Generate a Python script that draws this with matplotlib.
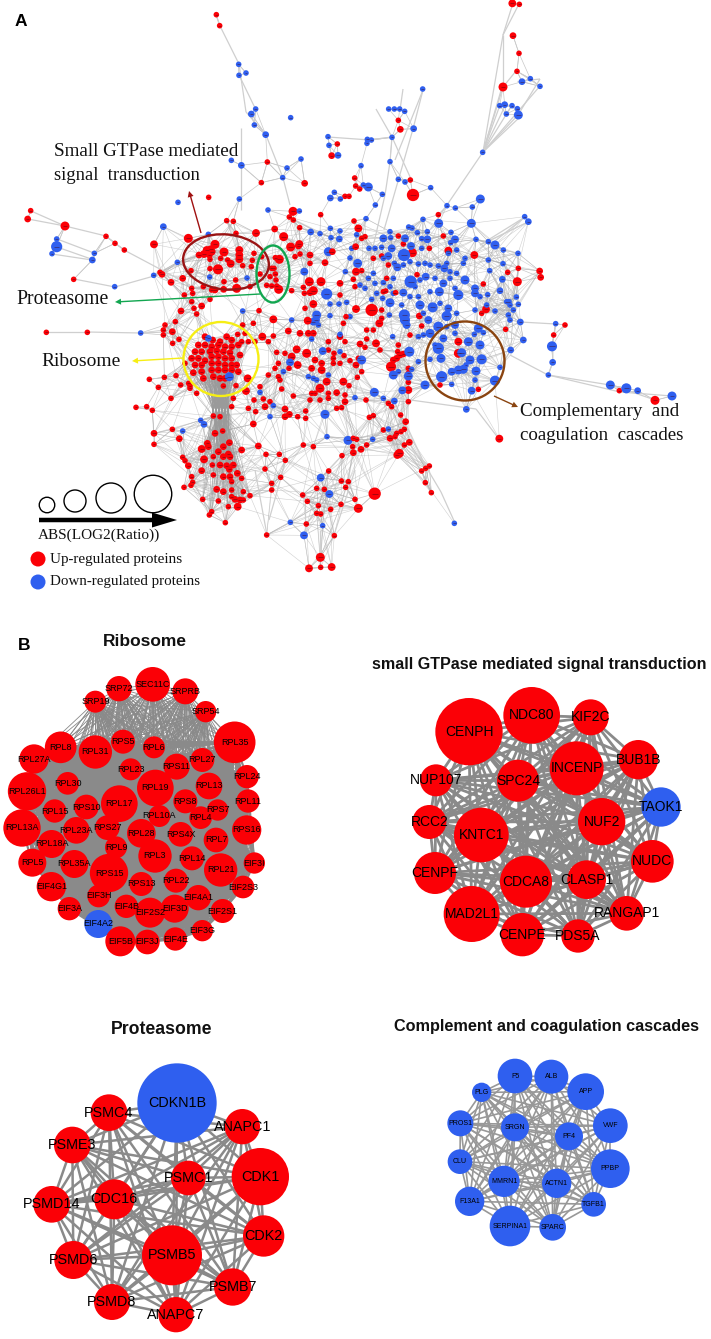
import itertools
import numpy as np
import matplotlib
matplotlib.use("Agg")
import matplotlib.pyplot as plt
from matplotlib.collections import LineCollection
from matplotlib.patches import Circle, Ellipse, FancyArrow

RED = "#fb0006"
BLUE = "#2f5fef"
SANS = "Liberation Sans"
SERIF = "Liberation Serif"

crop_a_up = [(649,44),(659,77),(1012,432),(995,467,6),(802,486),(784,548),(914,550,6),(1067,558),(626,592),(1035,589),(1047,589),
    (92,632),(83,657,6),(195,678,8),(879,634,8),(868,651),(880,660),(962,644),(680,662),(700,664),(1062,663),(1075,685,7),(899,683),
    (824,687,6),(768,699,7),(708,700),(318,709),(345,730),(373,750),(462,733,7),(565,715,8),(851,710,8),(645,733,8),(872,741,8),(898,732,7),
    (620,750,7),(632,748,7),(612,762,7),(597,765,6),(628,765,6),(672,756,8),(718,750,7),(718,765,7),(718,778,7),(692,791,7),(654,808,9),(630,806),
    (683,780),(662,775),(728,797),(754,800),(762,760),(757,781),(573,812),(548,835,6),(513,847,6),(486,823,6),(480,817),(707,840),(671,868,6),(645,870,6),
    (710,865,8),(750,860),(785,770),(838,778,8),(826,773),(815,805),(826,822),(810,830),(828,840),(815,858),(800,856),(830,858),(836,868,8),(780,822),(221,838)]
crop_a_down = [(716,193),(717,226),(738,219),(767,327),(754,342,6),(763,375),(797,404,6),(872,353),(984,410),(987,436),(1014,466,6),(903,477),
    (694,481),(724,496,6),(861,504),(848,533),(1003,577),(991,594,6),(1021,597),(718,597),(534,607),(804,630),(898,633),(490,680,6),(625,703),(932,696,6),(960,701),
    (991,685),(1020,693),(993,713),(1018,717,6),(1070,704),(1055,745),(985,755,8),(1050,774),(1073,790,8),(170,717),(170,740,10),(156,761),(283,760),(277,780,6),
    (532,787),(461,826),(344,860),(629,831),(741,834),(913,815,7),(980,882,10),(1040,907),(990,912),(1017,912)]
crop7_up = [(139,97),(262,97),(495,75),(490,90),(490,105),(517,95,6),(543,33,6),(590,42),(526,65),(518,130),(537,118),(448,238),(493,232),(475,262),(408,322),(440,320),
    (457,331),(513,295),(542,255),(566,250),(570,265),(590,280),(462,400,6),(462,433),(517,388),(538,416,6),(548,472),(555,482),(565,497,6),(552,562),(575,530),(578,547),
    (573,556),(608,598),(635,635),(628,645),(676,668),(645,400,6),(668,393),(622,430,6),(605,447,7),(625,440,6),(688,428,6),(670,440,6),(655,455,6),(685,462,6),(690,470,6),
    (670,470,6),(640,470),(612,478,7),(637,495),(660,495,6),(680,497,6),(700,495,6),(688,508,6),(605,512,6),(640,525),(670,530,6),(690,530,6),(712,520,6),(725,535),(695,545),
    (650,568,6),(670,575,6),(695,570),(730,575),(750,587),(695,590),(655,603),(705,598,6),(720,600,6),(730,600),(713,620,7),(685,620),(725,450,6),(775,438,6),(798,463),(838,463),
    (856,481),(795,507),(842,532),(815,550),(815,570),(760,372,6),(738,273,7),(640,348),(660,350),(695,320),(745,325),(767,335),(795,320,6),(810,305),(790,297),(762,300),(700,295),
    (855,327,6),(855,350,6),(868,343,6),(893,350),(917,333),(917,355),(910,435),(940,440),(1026,467),(1060,458,6),(1058,440),(986,513),(1024,543),(1045,545),(1037,562),(973,568),
    (950,565),(908,585),(922,604),(955,617),(992,628),(1023,613),(1065,598),(1075,625,8),(950,640),(962,642),(919,672),(1003,707),(800,705),(961,772,8),(927,805,7),(962,802),(995,801,7),
    (875,170,7),(893,195,7),(900,100,6),(925,100,6),(940,100,6),(920,160,8),(945,180,6),(965,190,6),(965,210,7),(935,205,6),(960,265,8),(980,245,7),(1010,278,6),(945,280),(930,300),
    (960,300),(985,295),(1010,325),(1025,323),(1030,245,7),(1047,257),(1000,175),(1035,125),(1020,110,6),(830,157),(855,160),(825,205),(805,225),(880,288),(845,267),(835,230),(1075,175),
    (985,125),(985,150),(1000,190),(1020,190)]
crop7_down = [(422,99),(962,533,7),(988,582,7),(871,667),(912,706,7),(968,677),(981,410),(1044,421,8),(975,343,8),(1065,293),(548,393),(602,361),(612,373,6),(850,215),(870,187,7),(925,230),
    (940,235),(985,225),(968,153,7),(1020,155),(1078,180),(950,45,8),(940,65,7),(955,75),(728,33),(875,60),(990,12),(1015,12),(1040,8),(990,47),(1020,103),(1050,50),(780,277),(810,350),(820,317)]
crop9_up = [(55,24,7),(135,42,7),(115,58,7),(105,62,7),(85,72,6),(125,65,7),(160,65,7),(208,62,7),(210,75,7),(208,88,7),(180,98,7),(145,118,9),(120,88),(125,118),(63,122),(38,145,6),(5,157),
    (162,155),(160,180),(200,175,8),(125,180),(100,170),(65,175),(68,190),(43,195),(33,243,6),(72,235),(95,228,6),(65,215),(120,208),(260,10,6),(315,0),(342,20,7),(362,50,7),(385,48,6),(420,75,6),
    (375,80),(390,72),(420,100),(465,98,6),(487,65,6),(323,85),(312,115),(320,130),(305,140),(295,143),(322,155),(310,165),(325,178,8),(365,182),(418,155,8),(453,155,8),(510,160,6),(400,172),
    (430,182,8),(420,188,6),(403,190),(430,222,7),(405,235),(413,272,7),(510,195),(267,242),(310,268,7),(250,280),(218,285),(203,313),(225,310),(277,320,7),(255,335),(295,335),(310,318),(392,313,6),
    (412,310,6),(430,305,6),(355,303,6),(380,358,7),(410,372,8),(325,370),(363,382,7),(383,408,8),(357,415),(325,400),(310,417),(330,450),(295,437),(228,485,7),(270,470),(370,497),(425,490),(440,492),
    (450,480,8),(475,490),(500,490),(525,495),(522,453,7),(492,370),
    # ribosome knot
    (105,320,6),(128,330,6),(150,335,6),(170,320,6),(185,330,6),(85,345,6),(105,345,6),(125,350,6),(145,345,6),(165,350,6),(185,350,6),(205,345,6),(75,365,6),(95,365,6),(120,365,6),(140,362,6),(160,365,6),
    (180,368,6),(210,375,6),(65,385,6),(85,385,6),(105,392,6),(125,380,6),(145,380,6),(165,385,6),(185,385,6),(75,405,6),(95,405,6),(125,400,6),(145,400,6),(165,405,6),(185,405,6),(200,405,6),(70,428,6),
    (95,425,6),(125,420,6),(145,420,6),(165,420,6),(185,420,6),(205,425,6),(100,445,6),(130,440,6),(150,445,6),(165,445,6),(45,400),(18,437),(30,462),(60,468),(160,468),(198,467),(233,445,7),(200,315),
    (215,335),(235,335),(8,305,6),(28,328,6),(8,340),(15,275,6)]
crop9_down = [(115,325,6),(178,440,8),(22,97),(120,142,6),(232,145,6),(472,192,10),(218,243),(438,255,7),(438,270,7),(445,285,6),(402,125,8),(472,65,7),(526,125),(458,362,8),(362,398,8),(340,425),(268,487,6),(415,440,7),(440,450),(476,433),(365,272),(425,327),(510,315)]
crop10_up = [(175,18),(75,20),(65,25),(47,50,6),(190,42),(217,68,8),(268,55),(310,18),(325,62,7),(403,75,7),(430,162),(425,250),(438,238,7),(497,298),(503,127),(532,155,8),(535,115),(100,85),(125,78),(145,105),
    (48,125,7),(65,122),(40,148),(45,170),(140,145),(130,185),(137,183),(125,240),(95,240,11),(125,265),(118,280,7),(48,237,7),(18,260),(10,280),(15,283),(0,322),(80,300),(100,300),(105,302),(80,327),(108,340,7),
    (60,342,6),(75,352),(120,360),(175,345),(173,365),(160,390,6),(170,385,6),(180,375,6),(190,372,6),(153,410,9),(48,405,6),(12,377),(30,392),(65,425),(52,442),(12,455,8),(27,468),(205,415),(205,430),(205,457),
    (205,480,7),(145,520),(155,530),(205,515),(238,258,6),(245,288),(210,315),(355,335,7),(355,370,8),(300,465),(415,478),(15,515,6),(78,510)]
crop10_down = [(130,25,7),(150,5),(195,25,7),(232,8),(262,5),(262,28,7),(465,45,8),(408,28),(445,35),(490,60),(50,15),(35,57),(87,55),(105,55),(125,52),(155,55,7),(192,75,11),(213,48,7),(245,55),(145,78,7),(30,85),
    (53,100,8),(102,85),(130,85),(163,100),(172,112,7),(190,105),(210,95),(235,102),(255,100),(270,105),(295,108),(313,115,7),(330,125),(350,130),(375,150,8),(15,125),(100,130),(85,145),(130,158),(212,155,11),(240,150),
    (257,140,7),(285,145),(310,160,7),(330,145),(160,145),(105,160),(75,175),(60,165),(110,190),(150,170),(190,188,7),(160,190),(225,170),(270,185),(298,185,8),(345,175),(355,195,9),(375,85),(370,100),(350,60),(325,70),
    (320,100),(405,175,7),(405,190,7),(420,200),(480,182,6),(487,148,6),(440,225),(465,243),(500,215),(510,225),(520,240),(505,255),(510,270),(405,240),(350,250),(325,235,7),(300,220),(240,225,8),(278,232,9),(235,200),
    (210,200),(185,225),(150,218,8),(128,205),(95,208),(20,215),(148,255),(193,255,10),(195,270,9),(200,285,7),(265,270,7),(250,250),(320,258,9),(355,250),(295,290,9),(320,290),(345,285,7),(415,295,8),(270,310,8),(235,320),
    (250,315),(285,345),(295,355,10),(303,385,8),(270,388),(310,325,7),(345,310),(385,335,8),(365,368,8),(390,390,8),(425,388,9),(420,345,8),(403,313),(430,308),(355,420,8),(370,418,8),(378,405),(335,425,7),(305,440,10),
    (335,463),(408,423,8),(465,452,9),(480,412),(405,450),(395,482,7),(255,465,8),(250,462),(187,481,7),(103,487,8),(45,503),(160,435,8),(175,425),(205,438,8),(215,418),(235,395),(208,365,9),(158,320),(65,390,8),(130,505)]
crop12_up = [(478,296,7),(205,130),(205,150,6),(205,185),(150,190,6),(155,202,6),(182,225),(197,245,6),(88,232),(100,227),(130,270),(170,280),(183,275),(193,268),(150,295,6),(165,290),(208,307,6),(193,315),(178,340,8),
    (172,345,7),(80,315),(40,295),(50,298),(38,317,6),(63,328,6),(38,338,7),(5,348),(268,378),(257,385),(245,393),(256,428),(274,458),(104,461,11),(55,504,9),(44,478,6),(16,442),(5,424),(25,425),(3,493)]
crop12_down = [(379,208,6),(163,183,6),(145,267),(98,298),(23,300,8),(45,173),(103,156,8)]
crop8_up = [(645,75),(611,105),(808,272),(915,301,8),(469,90)]
crop8_down = [(617,71),(511,66,6),(520,120,6),(606,139,9),(608,187,6),(595,225),(781,255,8),(829,265,9),(863,272,6),(966,288,8),(482,150,6),(313,670)]
crop6_up = [(487,10,7),(508,13),(489,107,6),(507,160),(501,214),(459,261,8),(145,361),(151,388,6),(181,540),(189,585,11),(14,534),(17,557),(29,567),(12,662),(28,684,8),(34,715),(265,644),(280,709),(294,751,7),(373,765,7),
    (238,745),(144,709),(162,731),(187,760,8),(69,775),(95,769),(117,797,6),(18,815,6),(34,813),(201,824),(474,817),(506,805),(569,813,6),(572,832,6),(501,846,7),(401,852,6),(107,875),(137,878),(97,893),(110,835),(15,857),(10,838),(17,740)]
crop6_down = [(218,267),(116,327),(133,327),(149,327),(164,334),(191,386,6),(126,412),(64,420),(52,418),(51,430),(120,485),(33,497),(145,538),(165,546),(242,563),(97,583),(40,555),(55,561,8),(76,615),(48,656),(219,658),(391,597,8),
    (291,617),(316,624),(367,621),(364,670,8),(266,670,8),(524,650),(535,665,6),(176,681),(186,684),(120,693,7),(201,698,7),(234,694),(303,697),(99,715,7),(122,713),(163,714,7),(215,716),(232,717,7),(315,718,7),(378,718),(302,728),
    (414,725),(435,737,9),(398,457),(516,245,6),(541,236),(570,259),(449,317),(464,314,6),(486,317),(502,326),(469,342),(505,345,8),(18,705),(459,751),(504,760),(415,780),(459,791),(419,812),(457,837,7),(451,871,7),(413,884),(499,891),(477,905),(505,913),(491,930)]

# where each crop sits in the picture
crop_sets = [
    (crop_a_up, 0, 0, RED), (crop_a_down, 0, 0, BLUE),
    (crop7_up, 0, 300, RED), (crop7_down, 0, 300, BLUE),
    (crop9_up, 170, 230, RED), (crop9_down, 170, 230, BLUE),
    (crop10_up, 340, 230, RED), (crop10_down, 340, 230, BLUE),
    (crop12_up, 340, 340, RED), (crop12_down, 340, 340, BLUE),
    (crop8_up, 350, 300, RED), (crop8_down, 350, 300, BLUE),
    (crop6_up, 350, 0, RED), (crop6_down, 350, 0, BLUE),
]

# panel B, name / x / y / diameter, all in 3x crop pixels
ribo_names = ["SEC11C","SRP72","SRPRB","SRP19","SRP54","RPL35","RPS5","RPL6","RPL8","RPL31","RPL27A","RPL23","RPS11","RPL27","RPL24","RPL13","RPL19","RPL30","RPL26L1","RPL11","RPS8","RPS7","RPL17","RPS10","RPL15","RPL10A","RPL4","RPL13A","RPS16","RPL23A","RPS27","RPL28","RPS4X","RPL7","RPL18A","RPL9","RPL3","RPL14","RPL5","RPL35A","RPS15","RPL21","EIF3I","RPL22","RPS13","EIF2S3","EIF4G1","EIF3H","EIF4A1","EIF3A","EIF4B","EIF2S2","EIF3D","EIF2S1","EIF4A2","EIF3G","EIF5B","EIF3J","EIF4E"]
ribo_x = [458,357,556,286,617,704,369,462,182,286,102,392,530,607,741,627,466,203,81,744,556,653,358,259,164,478,602,66,740,229,322,424,542,648,155,348,465,576,97,223,327,662,763,528,424,729,154,296,595,208,379,450,524,668,295,607,361,442,526]
ribo_y = [163,176,184,215,245,337,335,352,352,366,387,418,410,390,440,468,474,460,484,513,514,540,521,531,543,558,563,594,600,601,593,610,613,630,642,652,678,685,698,702,729,720,699,752,762,771,770,798,803,836,829,848,836,843,882,902,934,936,927]
ribo_d = [104,76,78,66,64,125,72,66,95,100,88,66,78,72,70,80,110,68,115,70,72,64,110,74,70,66,68,112,88,80,74,86,74,74,84,66,100,72,84,84,115,100,64,72,72,68,88,68,76,70,70,90,84,72,84,64,90,74,70]
ribo_down = ["EIF4A2"]
ribo_top = ["SEC11C","SRP72","SRPRB","SRP19","SRP54"]

gtp_names = ["CENPH","NDC80","KIF2C","BUB1B","INCENP","NUP107","SPC24","TAOK1","RCC2","KNTC1","NUF2","NUDC","CENPF","CDCA8","CLASP1","MAD2L1","RANGAP1","CENPE","PDS5A"]
gtp_x = [267,455,632,775,590,168,414,843,148,304,665,817,165,438,620,275,740,427,594]
gtp_y = [275,226,232,359,385,421,422,501,546,585,545,664,699,725,719,822,820,884,888]
gtp_d = [202,170,108,118,162,96,126,118,102,164,142,128,126,156,116,168,104,130,100]
gtp_down = ["TAOK1"]

prot_names = ["CDKN1B","PSMC4","ANAPC1","PSME3","CDK1","PSMC1","CDC16","PSMD14","CDK2","PSMD6","PSMB5","PSMB7","PSMD8","ANAPC7"]
prot_x = [531,327,727,217,781,565,343,155,791,220,516,698,336,528]
prot_y = [279,308,350,405,500,504,568,583,678,750,736,831,876,914]
prot_d = [238,110,106,110,172,104,120,110,124,114,180,112,108,106]
prot_down = ["CDKN1B"]

comp_names = ["F5","ALB","APP","PLG","VWF","PROS1","SRGN","PF4","CLU","PPBP","MMRN1","ACTN1","F13A1","TGFB1","SERPINA1","SPARC"]
comp_x = [345,454,557,245,631,181,345,507,180,631,312,470,209,581,330,458]
comp_y = [198,200,245,247,347,340,352,379,455,476,514,520,574,583,648,652]
comp_d = [104,102,110,58,104,78,84,84,74,116,94,88,88,74,122,80]
comp_down = comp_names

# long edges of the outer branches, picture pixels
long_edges = [(216,15,220,26),(220,26,239,64),(239,64,246,112),(246,112,266,135),(266,135,283,178),(283,178,290,205),(239,75,256,110),
    (241,128,241,210),(328,137,370,140),(370,140,392,137),(392,137,376,109),(392,137,390,162),(390,162,385,195),(385,195,370,260),(392,137,411,179),
    (423,90,395,160),(423,90,413,129),(400,110,403,89),(413,129,384,230),(483,152,502,87),(483,152,505,106),(483,152,500,105),(483,152,512,105),(483,152,518,115),(483,152,522,115),(483,152,540,86),
    (483,152,430,230),(513,3,503,35),(519,4,503,35),(503,35,483,152),(503,35,503,87),(503,87,483,152),(516,71,503,87),(517,81,522,81),(522,81,540,79),(540,79,518,115),
    (31,211,65,226),(28,219,65,226),(65,226,106,236),(106,236,124,250),(124,250,190,285),(57,239,94,253),(52,254,92,260),(57,247,94,260),(74,279,115,287),(115,287,154,276),
    (46,332,87,332),(87,332,141,333),(141,333,165,332),(525,217,480,245),(528,222,480,245),(525,217,490,245),
    (556,324,520,322),(524,340,490,320),(556,324,554,335),(552,346,553,362),(553,362,548,375),(548,375,510,355),(548,375,610,385),(610,385,626,390),(626,390,655,400),(548,375,620,392),(620,392,672,396),
    (476,409,396,398),(476,409,499,439),(401,340,480,350),(441,492,455,523),(441,492,425,465),(425,465,404,420),(428,465,400,440),(269,520,286,460),(320,557,320,530),
    (267,535,255,470),(334,535,355,470),(305,536,305,500)]

# the thick bundle between the ribosome knot and the cluster under it
waist_x = [213, 216, 219, 222, 225, 228]

# farther neighbours a node also links to, by rank of distance
mesh_ranks = [4, 6, 9, 13, 18, 25, 33]


def gather_nodes():
    xs, ys, ds, cs = [], [], [], []
    for pts, ox, oy, col in crop_sets:
        for p in pts:
            x = ox + p[0] / 3
            y = oy + p[1] / 3
            d = p[2] if len(p) > 2 else 5
            # crops overlap, so skip what another crop already gave
            if any(abs(x - a) < 2.0 and abs(y - b) < 2.0 for a, b in zip(xs, ys)):
                continue
            xs.append(x); ys.append(y); ds.append(d * 1.12); cs.append(col)
    return np.array(xs), np.array(ys), np.array(ds), cs


def draw_network(ax, names, xs, ys, ds, down, ox, oy, lw, ecol, fs, thin=(), thin_lw=0.6):
    px = ox + np.array(xs) / 3
    py = oy + np.array(ys) / 3
    for i, j in itertools.combinations(range(len(names)), 2):
        w = thin_lw if names[i] in thin or names[j] in thin else lw
        ax.plot([px[i], px[j]], [py[i], py[j]], color=ecol, lw=w, zorder=2, solid_capstyle="butt")
    for n, x, y, d in zip(names, px, py, ds):
        ax.add_patch(Circle((x, y), d / 6, fc=BLUE if n in down else RED, ec="none", zorder=3))
        ax.text(x, y, n, ha="center", va="center", fontsize=fs, family=SANS, color="black", zorder=4)


fig = plt.figure(figsize=(7.11, 13.39), dpi=100)
ax = fig.add_axes([0, 0, 1, 1])
ax.set_xlim(0, 711)
ax.set_ylim(1339, 0)
ax.axis("off")

# panel A
nx, ny, nd, nc = gather_nodes()
near_segs = []
mesh_segs = []
bundle_segs = []
for k in range(len(nx)):
    dist = np.hypot(nx - nx[k], ny - ny[k])
    order = np.argsort(dist)
    for m in order[1:4]:
        if dist[m] < 28:
            near_segs.append([(nx[k], ny[k]), (nx[m], ny[m])])
    if 150 < nx[k] < 540 and ny[k] > 215:
        for r in mesh_ranks:
            m = order[r]
            if dist[m] < 62 and 150 < nx[m] < 540 and ny[m] > 215:
                mesh_segs.append([(nx[k], ny[k]), (nx[m], ny[m])])
    if np.hypot(nx[k] - 219, ny[k] - 360) < 35:
        for i, w in enumerate(waist_x):
            if (k + i) % 2 == 0:
                bundle_segs.append([(nx[k], ny[k]), (w, 410)])
    if 195 < nx[k] < 260 and 440 < ny[k] < 520:
        for i, w in enumerate(waist_x):
            if (k + i) % 2 == 0:
                bundle_segs.append([(nx[k], ny[k]), (w, 410)])
ax.add_collection(LineCollection(near_segs, colors="#c8c8c8", linewidths=0.5, zorder=1))
ax.add_collection(LineCollection(mesh_segs, colors="#b0b0b0", linewidths=0.4, alpha=0.6, zorder=1))
ax.add_collection(LineCollection(bundle_segs, colors="#9a9a9a", linewidths=0.4, alpha=0.75, zorder=1))
ax.add_collection(LineCollection([[(a, b), (c, d)] for a, b, c, d in long_edges], colors="#cfcfcf", linewidths=0.9, zorder=1))
ax.scatter(nx, ny, s=(nd * 0.72) ** 2, c=nc, linewidths=0, zorder=2)
ax.scatter(nx, ny, s=(nd * 0.36) ** 2, marker="_", c="#400818", linewidths=0.5, alpha=0.6, zorder=2.1)

ax.add_patch(Ellipse((226, 262), 86, 55, angle=6, fill=False, ec="#9a1414", lw=1.7, zorder=5))
ax.add_patch(Ellipse((273, 274), 33, 57, fill=False, ec="#12a650", lw=1.7, zorder=5))
ax.add_patch(Ellipse((221, 359), 75, 74, fill=False, ec="#f6ee14", lw=1.7, zorder=5))
ax.add_patch(Ellipse((465, 361), 79, 79, fill=False, ec="#8a4410", lw=1.7, zorder=5))


def arrow(x0, y0, x1, y1, col, w=1.4, hw=6, hl=6):
    ax.add_patch(FancyArrow(x0, y0, x1 - x0, y1 - y0, width=w, head_width=hw, head_length=hl,
                            length_includes_head=True, color=col, lw=0, zorder=5))


arrow(201, 233, 189, 191, "#a01010")
arrow(260, 294, 115, 302, "#12a650")
arrow(183, 358, 132, 361, "#f6ee14")
arrow(494, 396, 518, 407, "#8a4410")
arrow(39, 520, 177, 520, "black", w=4.5, hw=15, hl=25)

for cx, cy, d in zip([47, 75, 111, 153], [505, 501, 498, 494], [15.5, 22, 30, 37.5]):
    ax.add_patch(Circle((cx, cy), d / 2, fill=False, ec="black", lw=1.0, zorder=5))

ax.scatter([38, 38], [559, 582], s=(15 * 0.72) ** 2, c=[RED, BLUE], linewidths=0, zorder=5)

serif_notes = [
    (54, 151, "Small GTPase mediated", 13.8), (54, 175, "signal  transduction", 13.4),
    (16, 300, "Proteasome", 14.2), (41, 362, "Ribosome", 14),
    (520, 412, "Complementary  and", 13.7), (520, 436, "coagulation  cascades", 13.6),
    (38, 535, "ABS(LOG2(Ratio))", 11), (50, 559, "Up-regulated proteins", 10.9), (50, 582, "Down-regulated proteins", 10.8),
]
for x, y, s, fs in serif_notes:
    ax.text(x, y, s, fontsize=fs, family=SERIF, ha="left", va="center", color="#111111", zorder=6)

ax.text(15, 22, "A", fontsize=12.5, family=SANS, weight="bold", ha="left", va="center")
ax.text(18, 646, "B", fontsize=12.5, family=SANS, weight="bold", ha="left", va="center")

# panel B
draw_network(ax, ribo_names, ribo_x, ribo_y, ribo_d, ribo_down, 0, 630, 1.6, "#8a8a8a", 6.5, thin=ribo_top)
draw_network(ax, gtp_names, gtp_x, gtp_y, gtp_d, gtp_down, 380, 640, 2.0, "#8a8a8a", 10)
draw_network(ax, prot_names, prot_x, prot_y, prot_d, prot_down, 0, 1010, 1.8, "#8a8a8a", 10.4)
draw_network(ax, comp_names, comp_x, comp_y, comp_d, comp_down, 400, 1010, 1.2, "#989898", 5)

for x, y, s, fs in [(145, 641, "Ribosome", 12.5), (539, 664, "small GTPase mediated signal transduction", 11.6),
                    (162, 1029, "Proteasome", 12.7), (547, 1026, "Complement and coagulation cascades", 11.7)]:
    ax.text(x, y, s, fontsize=fs, family=SANS, weight="bold", ha="center", va="center", color="#111111")

fig.savefig("out.png", dpi=100)
